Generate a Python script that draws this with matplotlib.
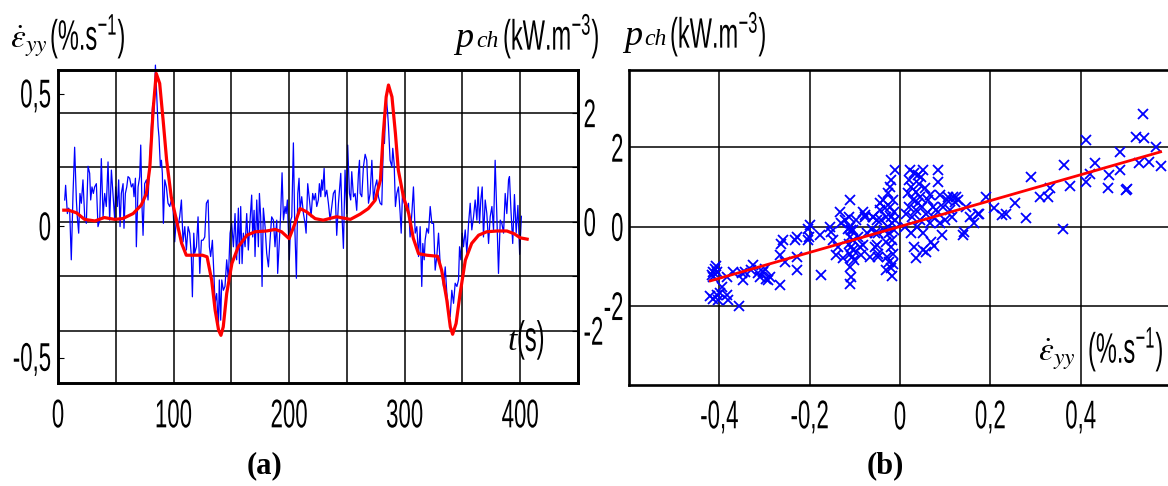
import numpy as np
import matplotlib.pyplot as plt
from matplotlib.patheffects import AbstractPathEffect
from matplotlib.transforms import Affine2D

plt.rcParams['font.family'] = ['Liberation Sans', 'DejaVu Sans']
plt.rcParams['mathtext.fontset'] = 'stix'

# (a) smoothed strain rate (left axis, %/s)
red_t = [5, 9, 16, 23, 32, 40, 49, 56, 65, 72, 76.5, 79.5, 82.3, 85, 88, 91, 94, 98, 102.5, 107,
         111, 118, 125, 129, 133, 136, 139, 141, 143, 146, 150.5, 156, 163.5, 170.5, 180.5, 188, 193.5, 200, 205, 209.5,
         215, 222.5, 229.5, 241, 253, 261.5, 268.5, 274.5, 279, 281.5, 284, 286, 289, 292, 294.5, 299, 303.5, 307.5, 312, 319,
         328.5, 332, 336.5, 339.5, 341.5, 344.5, 348, 352.5, 358, 364, 371, 380, 388.5, 395, 400, 406]
red_v = [0.06, 0.06, 0.05, 0.025, 0.019, 0.032, 0.025, 0.028, 0.047, 0.079, 0.123, 0.224, 0.44, 0.579, 0.541, 0.40, 0.25, 0.11, 0.022, -0.066,
         -0.111, -0.111, -0.111, -0.117, -0.206, -0.32, -0.396, -0.415, -0.383, -0.256, -0.142, -0.079, -0.035, -0.022, -0.019, -0.013, -0.022, -0.048, 0.009, 0.066,
         0.054, 0.028, 0.022, 0.035, 0.025, 0.045, 0.066, 0.098, 0.174, 0.351, 0.49, 0.535, 0.49, 0.351, 0.212, 0.11, 0.047, -0.047, -0.105, -0.111,
         -0.115, -0.168, -0.282, -0.383, -0.411, -0.37, -0.256, -0.13, -0.066, -0.035, -0.022, -0.019, -0.019, -0.03, -0.045, -0.05]

# (a) heat source p_ch (right axis, kW/m3)
blue_t = [5.8, 6.6, 8.1, 9.2, 10.1, 11.5, 13.0, 14.4, 15.9, 16.7, 17.9, 19.0, 20.2, 21.6, 23.1, 24.5, 26.0, 27.4, 28.3, 29.4,
          30.6, 31.7, 33.2, 34.6, 36.1, 37.5, 39.0, 40.4, 41.8, 43.3, 44.7, 46.2, 47.6, 49.1, 49.9, 51.4, 52.5, 53.7, 54.8, 56.3,
          57.1, 58.3, 59.5, 60.6, 62.0, 63.5, 64.9, 65.8, 67.0, 67.8, 69.3, 70.7, 71.6, 72.7, 73.6, 75.0, 76.5, 77.9, 79.4, 80.8,
          82.0, 83.1, 84.3, 85.1, 86.6, 87.4, 88.6, 89.5, 90.3, 91.2, 92.4, 93.8, 95.2, 96.7, 98.1, 99.6, 101.0, 102.5, 103.9, 105.3,
          106.8, 108.2, 109.7, 111.1, 112.6, 114.0, 115.4, 116.3, 117.5, 118.3, 119.8, 121.2, 122.7, 124.1, 125.5, 127.0, 128.4, 129.9,
          131.0, 132.1, 133.6, 135.0, 135.9, 137.3, 138.8, 139.6, 140.8, 141.7, 143.1, 144.5, 146.0, 147.4, 148.9, 150.3, 151.8, 153.2,
          154.6, 156.1, 157.0, 158.1, 159.3, 160.4, 161.9, 163.3, 164.7, 166.2, 167.6, 168.5, 169.7, 170.5, 172.0, 173.4, 174.3, 175.4,
          176.6, 177.7, 179.2, 180.6, 182.1, 183.5, 184.9, 186.4, 187.8, 189.3, 190.1, 191.6, 192.7, 193.9, 195.1, 196.5, 197.4, 198.5,
          199.4, 200.2, 201.4, 202.3, 203.7, 204.9, 206.3, 207.5, 208.6, 209.5, 210.9, 212.4, 213.8, 214.7, 216.1, 217.6, 219.0, 220.4,
          221.6, 222.8, 223.9, 225.3, 226.2, 227.4, 228.2, 229.1, 230.3, 231.1, 232.6, 234.0, 235.5, 236.9, 238.3, 239.8, 241.2, 242.7,
          244.7, 245.8, 247.0, 248.4, 249.9, 250.7, 252.2, 253.3, 254.2, 255.7, 257.1, 258.5, 260.0, 260.9,
          261.5, 262.9, 264.3, 265.8, 267.2, 268.7, 270.1, 271.6, 273.0, 274.4, 275.9, 277.3, 278.8, 280.2, 281.7, 282.5, 284.0, 285.1,
          286.0, 287.4, 288.9, 289.7, 290.9, 292.0, 293.2, 294.6, 296.1, 297.0, 298.1, 299.0, 300.4, 301.9, 303.3, 304.7, 306.2, 307.6,
          309.1, 310.5, 312.0, 313.4, 314.8, 315.7, 316.9, 317.7, 319.2, 320.6, 322.1, 323.5, 325.0, 326.4, 327.8, 329.3, 330.7, 332.2,
          333.6, 335.1, 336.5, 337.9, 339.4, 340.8, 342.3, 343.7, 345.2, 346.6, 347.5, 348.6, 349.8, 350.9, 352.4, 353.8, 355.3, 356.7,
          358.1, 359.6, 361.0, 362.5, 363.6, 364.8, 365.9, 367.1, 368.2, 369.7, 371.1, 372.6, 374.0, 375.5, 376.9, 378.3, 379.8, 381.2,
          382.7, 384.1, 385.6, 387.0, 388.4, 389.9, 390.7, 392.0, 393.5, 395.0, 396.5, 398.0, 399.5, 401.0]
blue_p = [0.40, 0.67, 0.15, 0.25, 0.21, -0.70, 0.52, 1.37, 0.40, 0.09, -0.21, 0.52, 0.34, 0.77, 0.09, -0.03, 1.02, 0.89, 0.40, 0.64,
          0.52, 0.64, 0.70, -0.09, 0.03, 1.16, 0.09, 0.52, 0.28, 1.10, 0.03, 0.95, 0.52, 0.03, 0.64, 0.28, 0.77, -0.09, 0.52, 0.70,
          -0.12, 0.52, 0.64, 0.83, 0.80, 0.64, 0.70, 0.46, 0.80, -0.46, 0.64, 0.83, 1.41, 0.28, -0.25, 0.70, 0.77, 0.40, 1.13, 1.75,
          2.18, 1.99, 2.88, 2.48, 1.75, 1.56, 1.01, 1.13, 0.89, -0.03, 0.77, 0.64, 0.34, 0.28, 0.40, 0.21, -0.37, 0.09, -0.09, 0.09,
          0.40, -0.37, -0.09, -0.52, -0.09, -0.21, -0.64, -1.38, -0.21, -0.58, -0.46, 0.09, -0.95, -0.34, -0.34, -0.28, 0.34, 0.40,
          -0.46, -0.64, -0.34, -1.01, -1.50, -1.32, -1.93, -1.07, -1.81, -1.07, -1.26, -1.19, -0.70, -1.07, -0.21, -0.03, -0.46, 0.15,
          -0.70, 0.25, -0.77, 0.28, -0.77, -0.21, -0.46, 0.15, -0.52, 0.03, 0.49, -0.28, 0.21, -0.64, 0.40, -0.46, 0.52, 0.09,
          -1.19, 0.25, -0.09, -0.58, -0.83, -0.34, 0.09, 0.03, -0.46, 0.03, -0.95, -0.34, 0.15, 0.90, 0.03, 0.28, 0.15, 0.40,
          -0.21, -0.70, 0.03, 0.09, 1.45, -0.09, -1.04, 0.52, 0.80, 0.21, 0.46, 0.15, -0.03, -0.21, 0.70, 0.40, 0.09, 0.52,
          0.40, 0.52, 0.28, 0.40, 0.70, 0.46, 0.77, 0.58, 0.98, 0.46, 0.58, 0.34, 0.03, 0.28, 0.52, 0.58, -0.25, 0.34,
          0.89, 0.09, -0.49, 0.95, 0.15, 1.41, 0.52, 0.40, 0.92, 0.46, 0.52, 0.21, 0.89, 1.13,
          0.52, 0.46, 1.01, 1.24, 1.13, 0.34, 0.52, 1.13, 0.40, 0.64, 0.77, 0.46, 0.34, 0.31, 1.56, 1.44, 2.30, 2.05,
          1.75, 1.13, 1.01, 1.35, 1.07, 0.28, 0.52, 0.64, 0.15, -0.21, 0.52, 0.40, 0.28, 0.21, 0.34, -0.28, 0.15, 0.64,
          -0.21, -0.09, -0.64, -0.09, -1.19, -0.40, -0.70, -0.34, -0.12, -0.21, 0.28, -0.03, -0.03, -0.89, -0.64, -0.21, -0.77, -0.95,
          -1.19, -0.83, -1.32, -1.62, -1.75, -1.26, -1.50, -1.13, -1.19, -1.07, -0.46, -0.70, -0.21, -0.46, -0.15, -0.58, -0.03, 0.34,
          -0.15, 0.09, 0.40, 0.03, 0.64, -0.03, 0.40, 0.64, -0.28, 0.40, 0.15, -0.40, 0.09, 0.28, -0.15, 1.13, 0.09, -0.95,
          0.03, -0.03, -0.21, 0.52, 0.15, 0.77, 0.83, 0.2, -0.4, 0.5, -0.2, 0.3, -0.6, 0.1]

# (b) p_ch vs strain rate scatter + linear fit
sc_x = [-0.417, -0.414, -0.410, -0.408, -0.406, -0.415, -0.421, -0.414, -0.406, -0.399, -0.395, -0.403, -0.383, -0.381, -0.384,
        -0.369, -0.357, -0.347, -0.349, -0.344, -0.325, -0.329, -0.314, -0.310, -0.303, -0.299, -0.296, -0.292, -0.288, -0.266,
        -0.263, -0.259, -0.266, -0.255, -0.233, -0.229, -0.228, -0.229, -0.204, -0.201, -0.203, -0.200, -0.174, -0.178, -0.156,
        -0.152, -0.148, -0.141, -0.137, -0.133, -0.130, -0.126, -0.122, -0.111, -0.115, -0.108, -0.113, -0.111, -0.110, -0.108,
        -0.107, -0.110, -0.108, -0.110, -0.105, -0.104, -0.114, -0.103, -0.101, -0.111, -0.097, -0.093, -0.089, -0.086, -0.082,
        -0.078, -0.074, -0.067, -0.063, -0.060, -0.056, -0.052, -0.049, -0.045, -0.049,
        -0.078, -0.082, -0.059, -0.056, -0.052, -0.049, -0.045, -0.041, -0.037, -0.036, -0.034, -0.031, -0.030, -0.029, -0.027,
        -0.026, -0.024, -0.023, -0.023, -0.021, -0.020, -0.019, -0.018, -0.017, -0.015, -0.015, -0.012, -0.014, -0.013, -0.010,
        -0.025, -0.020, -0.018, -0.030, -0.015,
        0.010, 0.014, 0.018, 0.020, 0.021, 0.023, 0.025, 0.025, 0.027, 0.029, 0.030, 0.032, 0.035, 0.036, 0.038, 0.040, 0.040,
        0.042, 0.044, 0.045, 0.047, 0.049, 0.051, 0.051, 0.055, 0.057, 0.058, 0.062, 0.066, 0.067, 0.069, 0.072, 0.074, 0.080,
        0.084, 0.084, 0.088, 0.088, 0.092, 0.095, 0.099, 0.104, 0.106, 0.110, 0.116, 0.117, 0.125, 0.121, 0.128,
        0.035, 0.050, 0.075,
        0.139, 0.141, 0.147, 0.154, 0.163, 0.173, 0.176, 0.191, 0.209, 0.226, 0.235, 0.254, 0.280, 0.291, 0.309, 0.327, 0.333,
        0.361, 0.362, 0.377, 0.412, 0.412, 0.420, 0.431, 0.460, 0.462, 0.486, 0.487, 0.501, 0.503, 0.523, 0.529, 0.538, 0.541,
        0.552, 0.567, 0.577]
sc_y = [-1.23, -1.14, -1.06, -1.00, -1.14, -1.27, -1.76, -1.82, -1.73, -1.67, -1.52, -1.86, -1.73, -1.86, -1.27,
        -1.14, -2.00, -1.35, -1.18, -1.14, -0.97, -1.10, -1.18, -1.27, -1.14, -1.06, -1.31, -1.35, -1.27, -1.48,
        -0.43, -0.34, -0.72, -0.89, -0.34, -0.26, -0.76, -1.10, -0.34, -0.26, -0.05, 0.04, -1.23, -0.21, 0.00,
        -0.13, -0.34, -0.72, -0.51, 0.38, 0.08, -0.80, 0.16, 0.67, -0.05, -0.09, 0.25, 0.00, -0.26, -0.51,
        -0.76, -1.02, -1.27, -1.44, -0.34, -0.09, -0.43, -0.59, -0.85, -0.68, 0.16, -0.26, -0.51, -0.72, 0.38,
        0.25, -0.17, -0.76, -0.05, 0.25, -0.51, 0.16, -0.17, 0.42, -0.76,
        0.29, -0.47, 0.25, -0.17, -0.47, -0.68, 0.59, 0.16, 0.67, -0.09, 0.46, -0.38, 0.25, -0.76, 0.84,
        0.00, -0.17, 1.01, 0.50, 0.25, -0.51, 1.18, 0.08, -0.34, 0.67, -0.68, 1.43, 0.38, -0.09, 0.16,
        -0.90, -1.05, -1.25, -1.10, -0.95,
        0.00, 0.33, 0.84, 1.18, 0.50, 1.43, 1.01, -0.17, 0.25, 0.67, 1.35, -0.51, 0.88, 0.42, 0.00, 1.30, 0.59,
        1.09, 0.16, 0.75, 1.26, 0.50, 1.43, -0.17, 0.97, 0.33, -0.64, 0.67, 0.80, 0.08, -0.38, 0.50, 0.25, 0.42,
        1.43, 1.13, 0.80, 0.08, -0.21, 0.50, 0.16, 0.67, 0.75, 0.42, 0.25, 0.75, 0.75, 0.63, 0.67,
        -0.80, -0.60, -0.50,
        -0.21, -0.13, 0.50, 0.25, 0.08, 0.33, 0.33, 0.75, 0.46, 0.29, 0.33, 0.59, 0.21, 1.26, 0.75, 0.75, 0.97,
        -0.05, 1.55, 1.02, 2.19, 1.13, 1.34, 1.60, 0.97, 1.30, 1.89, 1.43, 0.92, 0.94, 2.27, 1.60, 2.84, 2.23,
        1.64, 2.00, 1.53]
fit_x = [-0.42, 0.577]
fit_y = [-1.37, 1.89]

a_xticks = [0, 50, 100, 150, 200, 250, 300, 350, 400, 450]
a_xlabels = ['0', '', '100', '', '200', '', '300', '', '400', '']
a_lticks = [-0.5, 0, 0.5]
a_llabels = ['-0,5', '0', '0,5']
a_rticks = [-2, -1, 0, 1, 2]
a_rlabels = ['-2', '', '0', '', '2']
b_xticks = [-0.4, -0.2, 0, 0.2, 0.4]
b_xlabels = ['-0,4', '-0,2', '0', '0,2', '0,4']
b_yticks = [-2, 0, 2]
b_ylabels = ['-2', '0', '2']


# the original uses a tall narrow font: stretch glyphs vertically about their middle
class Tall(AbstractPathEffect):
    def __init__(self, sy=1.8):
        super().__init__()
        self.sy = sy

    def draw_path(self, renderer, gc, tpath, affine, rgbFace=None):
        ext = tpath.get_extents(affine)
        cy = 0.5 * (ext.y0 + ext.y1)
        tr = affine + Affine2D().translate(0, -cy).scale(1, self.sy).translate(0, cy)
        renderer.draw_path(gc, tpath, tr, rgbFace)


W, H = 1168, 486
fig = plt.figure(figsize=(W / 100, H / 100), dpi=100)


def px(x0, y0, x1, y1):
    return [x0 / W, 1 - y1 / H, (x1 - x0) / W, (y1 - y0) / H]


def ftext(x, y, s, size=16, sy=1.8):
    t = fig.text(x / W, 1 - y / H, s, fontsize=size, va='center')
    t.set_path_effects([Tall(sy)])
    return t


def serif(x, y, s, size, family='Liberation Serif'):
    return fig.text(x / W, 1 - y / H, s, fontsize=size, va='baseline',
                    family=family, style='italic')


def frame(ax):
    for s in ax.spines.values():
        s.set_linewidth(1.9)
        s.set_color('black')
    ax.grid(True, color='black', linewidth=1.1)
    ax.set_axisbelow(True)


def tall_ticks(ax, which):
    labels = ax.get_xticklabels() if which == 'x' else ax.get_yticklabels()
    for lbl in labels:
        lbl.set_path_effects([Tall(1.8)])


# ----- panel (a)
ax = fig.add_axes(px(58, 70, 578, 383))
axr = ax.twinx()
frame(ax)
for s in axr.spines.values():
    s.set_linewidth(1.9)
ax.plot(red_t, red_v, color='red', lw=2.3, zorder=3)
axr.plot(blue_t, blue_p, color='blue', lw=0.9, zorder=2, clip_on=False)
ax.set_zorder(axr.get_zorder() + 1)
ax.patch.set_visible(False)
ax.set_xlim(0, 450)
ax.set_ylim(-0.596, 0.592)
axr.set_ylim(-2.965, 2.79)
ax.set_xticks(a_xticks, a_xlabels)
ax.set_yticks(a_lticks, a_llabels)
ax.grid(True, axis='x', color='black', linewidth=1.1)
ax.grid(False, axis='y')
axr.set_yticks(a_rticks, a_rlabels)
axr.grid(True, axis='y', color='black', linewidth=1.1)
ax.tick_params(axis='x', length=0, pad=16, labelsize=16)
ax.tick_params(axis='y', direction='in', length=4, pad=5, labelsize=16)
axr.tick_params(axis='y', direction='in', length=4, pad=4, labelsize=16)
tall_ticks(ax, 'x')
tall_ticks(ax, 'y')
tall_ticks(axr, 'y')

# axis titles
serif(10, 47, r'$\dot{\varepsilon}_{yy}$', 24)
ftext(50, 36, r'(%.s$^{\mathregular{-1}}$)', 17)
serif(455, 47, 'p', 26)
serif(476, 47, 'ch', 17)
ftext(503, 36, r'(kW.m$^{\mathregular{-3}}$)', 17)
serif(508, 350, 't', 24)
ftext(517, 340, '(s)', 17)

# ----- panel (b)
bx = fig.add_axes(px(629, 69.5, 1171, 385))
frame(bx)
bx.spines['right'].set_visible(False)
bx.plot(sc_x, sc_y, 'x', color='blue', ms=7, mew=1.3, zorder=2)
bx.plot(fit_x, fit_y, color='red', lw=2.0, zorder=3)
bx.set_xlim(-0.6, 0.6)
bx.set_ylim(-4.0, 3.97)
bx.set_xticks(b_xticks, b_xlabels)
bx.set_yticks(b_yticks, b_ylabels)
bx.tick_params(axis='x', length=0, pad=16, labelsize=16)
bx.tick_params(axis='y', length=0, pad=4, labelsize=16)
tall_ticks(bx, 'x')
tall_ticks(bx, 'y')

serif(624, 45, 'p', 26)
serif(644, 45, 'ch', 17)
ftext(670, 34, r'(kW.m$^{\mathregular{-3}}$)', 17)
serif(1038, 360, r'$\dot{\varepsilon}_{yy}$', 24)
ftext(1088, 349, r'(%.s$^{\mathregular{-1}}$)', 17)

fig.text(265 / W, 1 - 466 / H, '(a)', fontsize=22, fontweight='bold', family='Liberation Serif',
         ha='center', va='center')
fig.text(885 / W, 1 - 466 / H, '(b)', fontsize=22, fontweight='bold', family='Liberation Serif',
         ha='center', va='center')

fig.savefig('out.png', dpi=100)
